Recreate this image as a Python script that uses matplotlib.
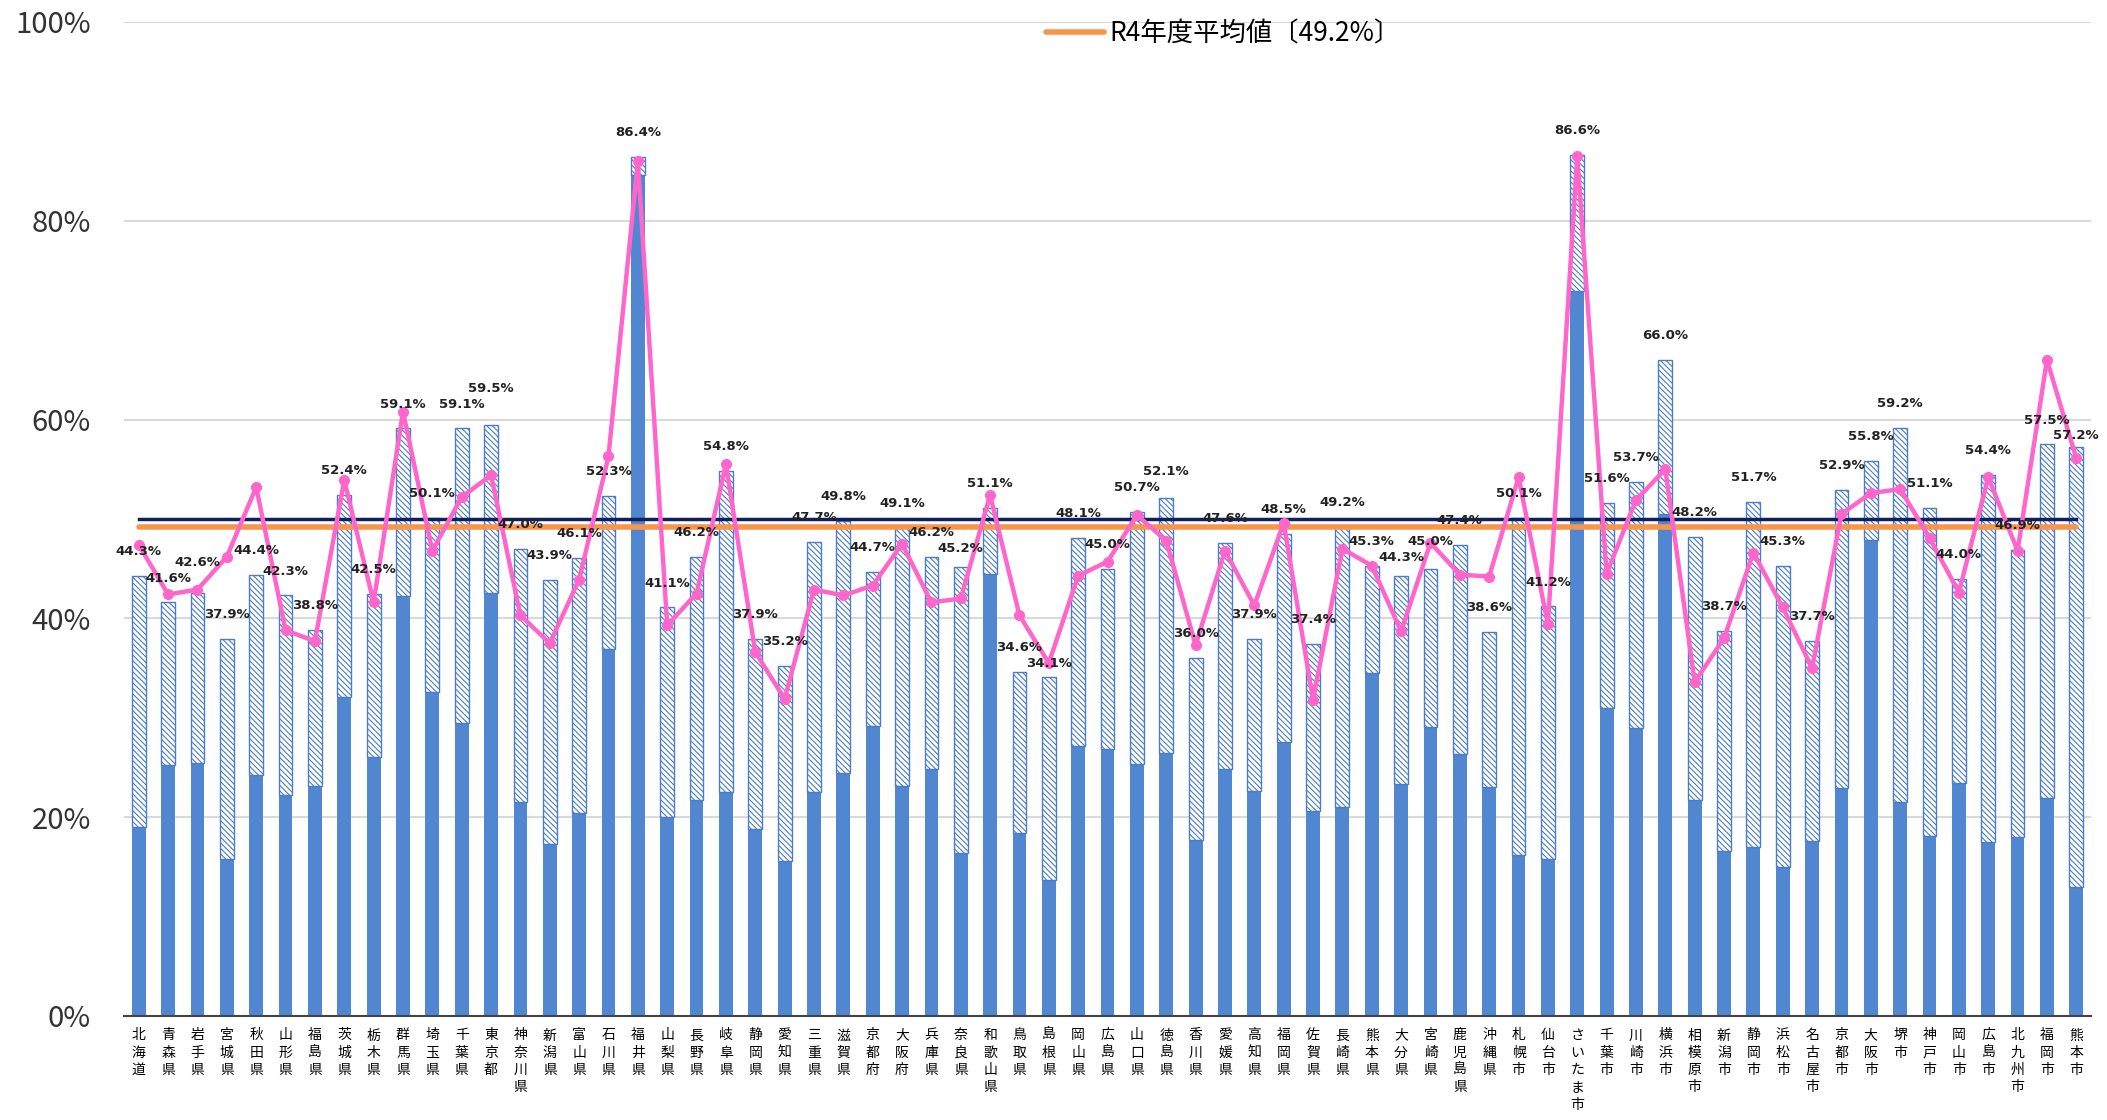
import matplotlib
matplotlib.use('Agg')
import matplotlib.pyplot as plt
import numpy as np

plt.rcParams['font.family'] = ['Noto Sans CJK JP', 'DejaVu Sans']

# categories: 47 prefectures + 20 designated cities
names = ['北海道', '青森県', '岩手県', '宮城県', '秋田県', '山形県', '福島県', '茨城県', '栃木県', '群馬県',
         '埼玉県', '千葉県', '東京都', '神奈川県', '新潟県', '富山県', '石川県', '福井県', '山梨県', '長野県',
         '岐阜県', '静岡県', '愛知県', '三重県', '滋賀県', '京都府', '大阪府', '兵庫県', '奈良県', '和歌山県',
         '鳥取県', '島根県', '岡山県', '広島県', '山口県', '徳島県', '香川県', '愛媛県', '高知県', '福岡県',
         '佐賀県', '長崎県', '熊本県', '大分県', '宮崎県', '鹿児島県', '沖縄県',
         '札幌市', '仙台市', 'さいたま市', '千葉市', '川崎市', '横浜市', '相模原市', '新潟市', '静岡市', '浜松市',
         '名古屋市', '京都市', '大阪市', '堺市', '神戸市', '岡山市', '広島市', '北九州市', '福岡市', '熊本市']

# total (labelled) values, %
total = [44.3, 41.6, 42.6, 37.9, 44.4, 42.3, 38.8, 52.4, 42.5, 59.1,
         50.1, 59.1, 59.5, 47.0, 43.9, 46.1, 52.3, 86.4, 41.1, 46.2,
         54.8, 37.9, 35.2, 47.7, 49.8, 44.7, 49.1, 46.2, 45.2, 51.1,
         34.6, 34.1, 48.1, 45.0, 50.7, 52.1, 36.0, 47.6, 37.9, 48.5,
         37.4, 49.2, 45.3, 44.3, 45.0, 47.4, 38.6,
         50.1, 41.2, 86.6, 51.6, 53.7, 66.0, 48.2, 38.7, 51.7, 45.3,
         37.7, 52.9, 55.8, 59.2, 51.1, 44.0, 54.4, 46.9, 57.5, 57.2]

# solid (lower) part of each bar, %
solid = [19.0, 25.2, 25.4, 15.8, 24.2, 22.2, 23.1, 32.1, 26.1, 42.2,
         32.6, 29.5, 42.6, 21.5, 17.3, 20.4, 36.9, 84.6, 20.0, 21.7,
         22.5, 18.8, 15.6, 22.5, 24.4, 29.2, 23.1, 24.8, 16.4, 44.5,
         18.4, 13.7, 27.2, 26.9, 25.3, 26.5, 17.7, 24.8, 22.6, 27.6,
         20.6, 21.0, 34.5, 23.3, 29.1, 26.4, 23.0,
         16.2, 15.8, 72.9, 31.0, 29.0, 50.5, 21.7, 16.6, 17.0, 15.0,
         17.6, 22.9, 47.9, 21.5, 18.1, 23.4, 17.5, 18.0, 21.9, 13.0]

# pink line series, %
line_vals = [47.4, 42.4, 42.9, 46.2, 53.2, 38.8, 37.7, 53.9, 41.6, 60.8,
             46.8, 52.2, 54.4, 40.3, 37.5, 43.9, 56.3, 86.0, 39.3, 42.5,
             55.5, 36.6, 31.9, 42.9, 42.3, 43.3, 47.5, 41.6, 42.0, 52.4,
             40.3, 35.5, 44.3, 45.7, 50.4, 47.8, 37.3, 46.8, 41.3, 49.6,
             31.8, 47.0, 45.3, 38.7, 47.6, 44.4, 44.2,
             54.2, 39.4, 86.5, 44.5, 51.9, 55.0, 33.6, 38.0, 46.6, 41.1,
             35.0, 50.5, 52.6, 53.0, 48.1, 42.6, 54.2, 46.8, 66.0, 56.1]

target = 50.0
avg_r4 = 49.2

x = np.arange(len(names))
upper = np.array(total) - np.array(solid)

fig = plt.figure(figsize=(21.07, 11.2), dpi=100)
ax = fig.add_axes([0.0589, 0.0929, 0.9335, 0.8875])

blue = '#5087D0'
plt.rcParams['hatch.color'] = '#4A7CC9'
plt.rcParams['hatch.linewidth'] = 0.8

ax.bar(x, solid, width=0.47, color=blue, zorder=2)
ax.bar(x, upper, width=0.47, bottom=solid, color='white', edgecolor='#4A7CC9',
       hatch='\\\\\\\\\\\\', linewidth=1.0, zorder=2)

ax.plot(x, [target] * len(x), color='#0F2060', lw=2.5, zorder=3)
ax.plot(x, [avg_r4] * len(x), color='#F7964A', lw=4, zorder=3,
        label='R4年度平均値〔49.2%〕', solid_capstyle='round')
ax.plot(x, line_vals, color='#FF66CC', lw=3.2, marker='o', markersize=7, zorder=4)

# data labels above bars; nudge neighbours apart when they would collide
label_y = []
for i, t in enumerate(total):
    y = t + 1.8
    if i > 0 and abs(y - label_y[-1]) < 1.6:
        y = label_y[-1] + (1.6 if t >= total[i - 1] else -1.6)
    label_y.append(y)

for xi, t, y in zip(x, total, label_y):
    ax.text(xi, y, f'{t:.1f}%', ha='center', va='bottom', fontsize=9.5,
            fontweight='bold', family='DejaVu Sans', color='#222222', zorder=5)

ax.set_ylim(0, 100)
ax.set_xlim(-0.5, len(x) - 0.5)
ax.set_yticks(np.arange(0, 101, 20))
ax.set_yticklabels([f'{v}%' for v in range(0, 101, 20)], fontsize=21, color='#333333')
ax.set_xticks(x)
ax.set_xticklabels(['\n'.join(n) for n in names], fontsize=10, linespacing=1.3,
                   va='top')
ax.tick_params(axis='x', length=0, pad=9)
ax.tick_params(axis='y', length=0, pad=24)
ax.grid(axis='y', color='#D9D9D9', lw=1.5, zorder=0)
ax.set_axisbelow(True)
for s in ['top', 'right', 'left']:
    ax.spines[s].set_visible(False)
ax.spines['bottom'].set_color('#444444')
ax.spines['bottom'].set_linewidth(1.5)

leg = fig.legend(loc='upper left', bbox_to_anchor=(0.485, 1.003), frameon=False,
                 fontsize=19, handlelength=2.2, handletextpad=0.2)

fig.savefig('out.png', dpi=100)
